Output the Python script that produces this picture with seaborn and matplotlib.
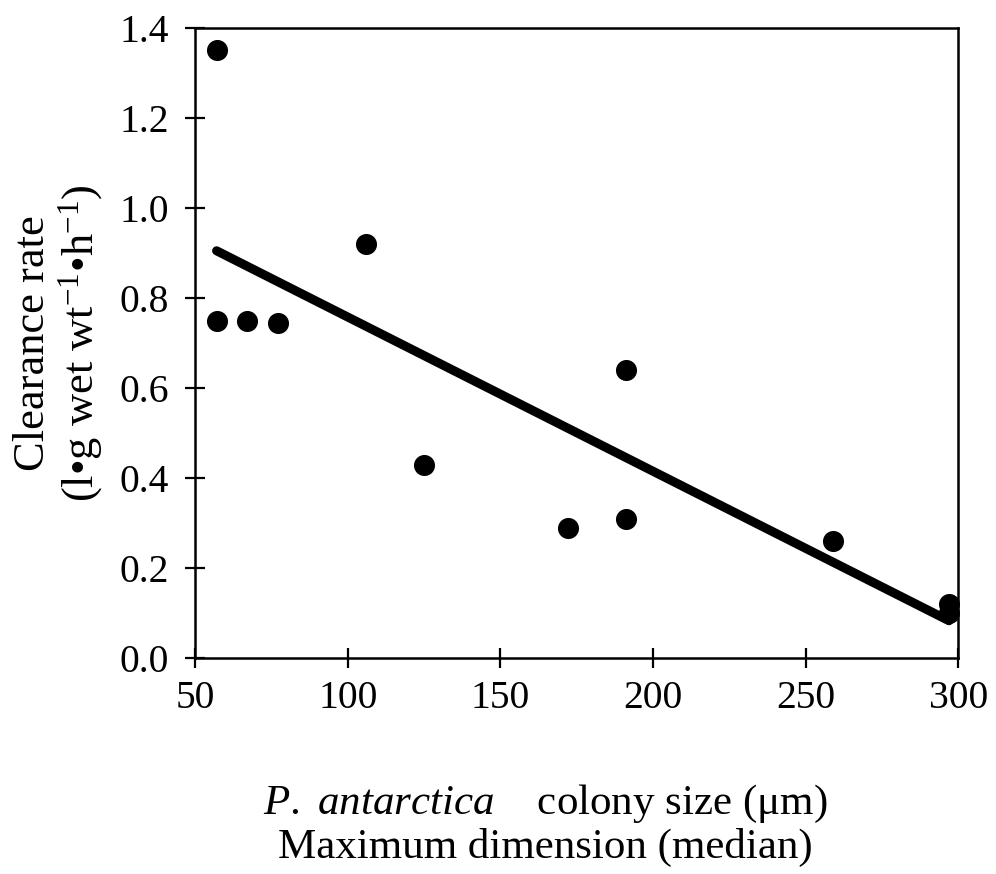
import matplotlib
matplotlib.use("Agg")
import matplotlib.pyplot as plt
import seaborn as sns
import pandas as pd
from matplotlib.ticker import FormatStrFormatter

# Data
colony_size = [57, 57, 67, 77, 106, 125, 172, 191, 191, 259, 297, 297]
clearance = [1.35, 0.75, 0.75, 0.745, 0.92, 0.43, 0.29, 0.31, 0.64, 0.26, 0.12, 0.10]
fit_x = [57, 297]
fit_y = [0.905, 0.083]
x_ticks = [50, 100, 150, 200, 250, 300]
y_ticks = [0.0, 0.2, 0.4, 0.6, 0.8, 1.0, 1.2, 1.4]

sns.set_theme(style="white")
plt.rcParams["font.family"] = ["Liberation Serif", "DejaVu Serif"]
plt.rcParams["mathtext.fontset"] = "custom"
plt.rcParams["mathtext.rm"] = "Liberation Serif"
plt.rcParams["mathtext.it"] = "Liberation Serif:italic"

df = pd.DataFrame({"size": colony_size, "rate": clearance})
fit = pd.DataFrame({"x": fit_x, "y": fit_y})

fig = plt.figure(figsize=(9.96, 8.74), dpi=100)
ax = fig.add_axes([0.196, 0.247, 0.766, 0.721])

sns.lineplot(data=fit, x="x", y="y", ax=ax, color="black", linewidth=6.5,
             solid_capstyle="round")
sns.scatterplot(data=df, x="size", y="rate", ax=ax, color="black", s=230,
                edgecolor="black", linewidth=0, zorder=3, clip_on=False)

ax.set_xlim(50, 300)
ax.set_ylim(0, 1.4)
ax.set_xticks(x_ticks)
ax.set_yticks(y_ticks)
ax.yaxis.set_major_formatter(FormatStrFormatter("%.1f"))
ax.tick_params(axis="both", direction="inout", length=14, width=1.6,
               labelsize=28.5, colors="black")
ax.tick_params(axis="x", pad=9)
ax.tick_params(axis="y", pad=12)
ax.tick_params(top=False, right=False, left=True, bottom=True)
for sp in ax.spines.values():
    sp.set_color("black")
    sp.set_linewidth(1.8)

ax.set_xlabel(r"$\it{P.}$ $\it{antarctica}$    colony size (μm)" + "\n" +
              "Maximum dimension (median)", fontsize=31, color="black",
              labelpad=47, linespacing=1.1)
ax.xaxis.label.set_x(0.459)
ax.set_ylabel("Clearance rate\n" + r"(l•g wet wt$^{-1}$•h$^{-1}$)",
              fontsize=32, color="black", labelpad=10, linespacing=1.1)

fig.savefig("out.png", dpi=100, facecolor="white")
